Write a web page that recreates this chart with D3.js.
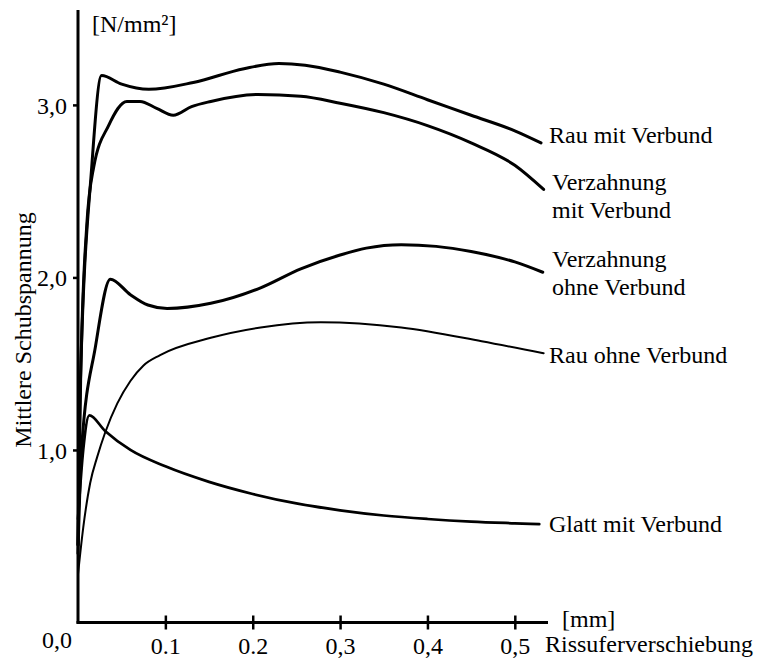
<!DOCTYPE html>
<html><head><meta charset="utf-8">
<script src="https://cdn.jsdelivr.net/npm/d3@7"></script>
<style>body{margin:0;background:#fff}svg{display:block}text{font-family:"Liberation Serif","Times New Roman",serif !important;fill:#000}</style>
</head><body>
<script>
// ---- data ----
const xTickValues = [0.1, 0.2, 0.3, 0.4, 0.5];
const xTickLabels = ["0.1", "0.2", "0,3", "0,4", "0,5"];
const yTickValues = [1, 2, 3];
const yTickLabels = ["1,0", "2,0", "3,0"];

const rauMit = [[0,0.45],[0.002,1.25],[0.016,2.66],[0.027,3.17],[0.05,3.12],[0.081,3.09],[0.132,3.13],[0.19,3.21],[0.23,3.24],[0.26,3.23],[0.3,3.19],[0.35,3.12],[0.4,3.03],[0.45,2.94],[0.5,2.85],[0.53,2.78]];
const verzMit = [[0,0.45],[0.003,1.4],[0.01,2.3],[0.018,2.64],[0.035,2.88],[0.056,3.02],[0.071,3.02],[0.09,2.98],[0.109,2.94],[0.13,2.99],[0.152,3.02],[0.206,3.06],[0.255,3.05],[0.3,3.01],[0.35,2.955],[0.4,2.88],[0.45,2.78],[0.5,2.65],[0.533,2.51]];
const verzOhne = [[0,0.4],[0.004,1.0],[0.02,1.6],[0.037,1.99],[0.06,1.9],[0.08,1.84],[0.102,1.82],[0.152,1.85],[0.209,1.94],[0.255,2.05],[0.3,2.13],[0.33,2.17],[0.37,2.19],[0.41,2.18],[0.45,2.15],[0.5,2.09],[0.532,2.03]];
const rauOhne = [[0,0.28],[0.006,0.55],[0.014,0.81],[0.022,0.96],[0.031,1.1],[0.045,1.27],[0.06,1.4],[0.075,1.49],[0.094,1.55],[0.152,1.65],[0.209,1.71],[0.278,1.74],[0.37,1.71],[0.462,1.63],[0.533,1.56]];
const glatt = [[0,0.6],[0.006,1.0],[0.013,1.2],[0.031,1.11],[0.06,1.0],[0.1,0.905],[0.15,0.815],[0.2,0.745],[0.25,0.69],[0.3,0.65],[0.35,0.62],[0.4,0.6],[0.45,0.585],[0.5,0.575],[0.528,0.57]];

const seriesNames = ["Rau mit Verbund", "Verzahnung|mit Verbund", "Verzahnung|ohne Verbund", "Rau ohne Verbund", "Glatt mit Verbund"];
const seriesData = [rauMit, verzMit, verzOhne, rauOhne, glatt];

// ---- layout ----
const W = 759, H = 658;
const FS = "24px";
const svg = d3.select("body").append("svg").attr("width", W).attr("height", H);
const x = d3.scaleLinear().domain([0, 0.538]).range([78, 548]);
const y = d3.scaleLinear().domain([0, 3.55]).range([622.5, 10]);

const widths = [3, 3, 3, 2, 2.7];
const line = d3.line().x(d => x(d[0])).y(d => y(d[1])).curve(d3.curveMonotoneX);

seriesData.forEach((s, i) => {
  svg.append("path").attr("d", line(s)).attr("fill", "none").attr("stroke", "#000")
    .attr("stroke-width", widths[i]).attr("stroke-linejoin", "round").attr("stroke-linecap", "round");
});

// axes
const yAxis = d3.axisLeft(y).tickValues(yTickValues).tickFormat((d, i) => yTickLabels[i]).tickSize(5).tickSizeOuter(0);
const gy = svg.append("g").attr("transform", "translate(78,0)").call(yAxis).attr("font-family", null).attr("font-size", null);
gy.select(".domain").attr("stroke-width", 3).attr("d", `M0,${y(0)+1}V10`);
gy.selectAll(".tick line").attr("stroke-width", 2.5);
gy.selectAll(".tick text").attr("x", -11).style("font-size", FS).attr("dy", "0.35em");

const xAxis = d3.axisBottom(x).tickValues(xTickValues).tickFormat((d, i) => xTickLabels[i]).tickSize(7).tickSizeOuter(0);
const gx = svg.append("g").attr("transform", `translate(0,${y(0)})`).call(xAxis).attr("font-family", null).attr("font-size", null);
gx.select(".domain").attr("stroke-width", 3).attr("d", `M${x(0)-1.5},0H548`);
gx.selectAll(".tick line").attr("y1", -7).attr("y2", 7).attr("stroke-width", 2.5);
gx.selectAll(".tick text").attr("y", 31).attr("dy", 0).style("font-size", FS);

svg.append("text").attr("x", 57).attr("y", 648).attr("text-anchor", "middle").style("font-size", FS).text("0,0");

// unit labels
svg.append("text").attr("x", 92).attr("y", 32).style("font-size", FS).text("[N/mm²]");
svg.append("text").attr("x", 562).attr("y", 627).style("font-size", FS).text("[mm]");
svg.append("text").attr("x", 545).attr("y", 652).style("font-size", FS).text("Rissuferverschiebung");
svg.append("text").attr("transform", "translate(31,330) rotate(-90)").attr("text-anchor", "middle")
  .style("font-size", FS).text("Mittlere Schubspannung");

// series labels
const labelPos = [[549,143],[552,190],[552,267],[549,363],[549,532]];
seriesNames.forEach((n, i) => {
  const t = svg.append("text").attr("x", labelPos[i][0]).attr("y", labelPos[i][1]).style("font-size", FS);
  n.split("|").forEach((part, j) => {
    t.append("tspan").attr("x", labelPos[i][0]).attr("dy", j === 0 ? 0 : 27.5).text(part);
  });
});
</script>
</body></html>
